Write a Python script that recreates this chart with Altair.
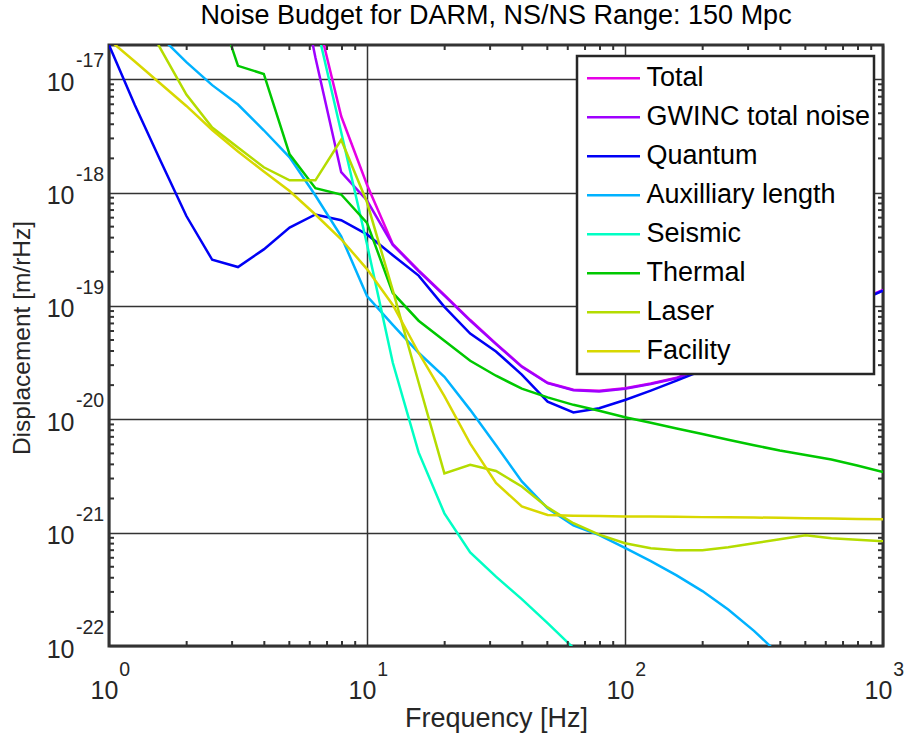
import altair as alt
import pandas as pd

# Frequency grid (10 points per decade, 1 Hz .. 1 kHz)
FREQ = [1.0, 1.259, 1.585, 1.995, 2.512, 3.162, 3.981, 5.012, 6.310, 7.943,
        10.0, 12.59, 15.85, 19.95, 25.12, 31.62, 39.81, 50.12, 63.10, 79.43,
        100.0, 125.9, 158.5, 199.5, 251.2, 316.2, 398.1, 501.2, 631.0, 794.3, 1000.0]

N = None

TOTAL = [N] * 8 + [4.1e-17, 4.7e-18, 1.17e-18, 3.5e-19, 2.06e-19, 1.25e-19, 7.5e-20,
                   4.65e-20, 2.93e-20, 2.1e-20, 1.82e-20, 1.78e-20, 1.88e-20, 2.07e-20,
                   2.32e-20, 2.84e-20, 3.6e-20, 4.5e-20, 5.6e-20, 7.0e-20, 8.8e-20,
                   1.1e-19, 1.38e-19]

GWINC = [N] * 7 + [2.1e-16, 1.55e-17, 1.51e-18, 8.5e-19, 3.45e-19, 2.03e-19, 1.23e-19,
                   7.4e-20, 4.6e-20, 2.9e-20, 2.08e-20, 1.8e-20, 1.76e-20, 1.86e-20,
                   2.05e-20, 2.3e-20, 2.82e-20, 3.58e-20, 4.48e-20, 5.58e-20, 6.98e-20,
                   8.78e-20, 1.1e-19, 1.37e-19]

QUANTUM = [2.0e-17, 5.9e-18, 1.9e-18, 6.2e-19, 2.55e-19, 2.2e-19, 3.15e-19, 4.9e-19,
           6.4e-19, 5.7e-19, 4.27e-19, 2.8e-19, 1.85e-19, 9.8e-20, 5.7e-20, 3.96e-20,
           2.48e-20, 1.43e-20, 1.15e-20, 1.25e-20, 1.48e-20, 1.79e-20, 2.19e-20, 2.7e-20,
           3.4e-20, 4.3e-20, 5.4e-20, 6.8e-20, 8.55e-20, 1.08e-19, 1.36e-19]

AUX = [N] * 2 + [2.37e-17, 1.41e-17, 8.85e-18, 5.97e-18, 3.54e-18, 2.04e-18, 9.4e-19,
                 4.1e-19, 1.22e-19, 6.8e-20, 3.86e-20, 2.37e-20, 1.21e-20, 5.9e-21,
                 2.83e-21, 1.64e-21, 1.16e-21, 9.5e-22, 7.35e-22, 5.6e-22, 4.2e-22,
                 3.05e-22, 2.1e-22, 1.36e-22, 8.3e-23] + [N] * 4

SEISMIC = [N] * 8 + [3.3e-17, 3.4e-18, 3.5e-19, 3.15e-20, 5.1e-21, 1.48e-21, 6.7e-22,
                     4.09e-22, 2.59e-22, 1.59e-22, 9.6e-23] + [N] * 12

THERMAL = [N] * 4 + [6.3e-17, 1.31e-17, 1.11e-17, 2.17e-18, 1.09e-18, 9.6e-19, 5.4e-19,
                     1.3e-19, 7.4e-20, 4.92e-20, 3.28e-20, 2.42e-20, 1.86e-20, 1.56e-20,
                     1.34e-20, 1.19e-20, 1.04e-20, 9.3e-21, 8.3e-21, 7.4e-21, 6.6e-21,
                     5.9e-21, 5.3e-21, 4.83e-21, 4.41e-21, 3.91e-21, 3.43e-21]

LASER = [N] + [4.9e-17, 1.85e-17, 7.3e-18, 3.74e-18, 2.5e-18, 1.67e-18, 1.28e-18, 1.28e-18,
               2.92e-18, 8.2e-19, 1.37e-19, 2.11e-20, 3.33e-21, 3.96e-21, 3.5e-21, 2.55e-21,
               1.67e-21, 1.21e-21, 9.6e-22, 8.05e-22, 7.28e-22, 6.99e-22, 6.99e-22, 7.43e-22,
               8.05e-22, 8.73e-22, 9.47e-22, 8.91e-22, 8.64e-22, 8.38e-22]

FACILITY = [2.23e-17, 1.43e-17, 9.1e-18, 5.8e-18, 3.56e-18, 2.3e-18, 1.53e-18, 1.03e-18,
            6.4e-19, 3.87e-19, 2.11e-19, 1.02e-19, 3.86e-20, 1.6e-20, 6.1e-21, 2.74e-21,
            1.7e-21, 1.43e-21, 1.41e-21, 1.4e-21, 1.39e-21, 1.39e-21, 1.38e-21, 1.37e-21,
            1.37e-21, 1.36e-21, 1.35e-21, 1.34e-21, 1.33e-21, 1.32e-21, 1.31e-21]

NAMES = ["Total", "GWINC total noise", "Quantum", "Auxilliary length",
         "Seismic", "Thermal", "Laser", "Facility"]
COLORS = ["#e600e6", "#9f00ff", "#0000f5", "#00b2ff",
          "#00ffc4", "#00c800", "#b4dc00", "#d8d800"]
SERIES = [TOTAL, GWINC, QUANTUM, AUX, SEISMIC, THERMAL, LASER, FACILITY]

X_MAJOR = [1, 10, 100, 1000]
X_EXP = ["0", "1", "2", "3"]
Y_MAJOR = [1e-22, 1e-21, 1e-20, 1e-19, 1e-18, 1e-17]
Y_EXP = ["-22", "-21", "-20", "-19", "-18", "-17"]
X_MINOR = [m * 10 ** d for d in range(3) for m in range(2, 10)]
Y_MINOR = [m * 10.0 ** d for d in range(-22, -17) for m in range(2, 10)]

FONT = "Liberation Sans, Arial, Helvetica, sans-serif"
INK = "#262626"
FRAME = "#333333"
W, H = 774, 601

rows = []
for name, vals in zip(NAMES, SERIES):
    for f, v in zip(FREQ, vals):
        if v is not None:
            rows.append({"series": name, "f": f, "v": v})
df = pd.DataFrame(rows)

xscale = alt.Scale(type="log", domain=[1, 1000], nice=False)
yscale = alt.Scale(type="log", domain=[1e-22, 2e-17], nice=False)

# one axis definition per channel, shared by every layer that uses the channel
xaxis = alt.Axis(
    values=X_MAJOR, labelExpr="'10'", labelFont=FONT, labelFontSize=25,
    labelColor=INK, labelAlign="center", labelBaseline="middle",
    labelPadding=44, labelOffset=-5, labelFlush=False, labelOverlap=False,
    ticks=False, tickSize=0, domain=False,
    grid=True, gridColor=FRAME, gridWidth=1.5, gridOpacity=1,
    title="Frequency [Hz]", titleFont=FONT, titleFontSize=27,
    titleFontWeight="normal", titleColor=INK,
    titleX=W / 2, titleY=72, titleAlign="center", titleBaseline="middle")
yaxis = alt.Axis(
    values=Y_MAJOR, labelExpr="'10'", labelFont=FONT, labelFontSize=25,
    labelColor=INK, labelAlign="right", labelBaseline="middle",
    labelPadding=35, labelOffset=3, labelFlush=False, labelOverlap=False,
    ticks=False, tickSize=0, domain=False,
    grid=True, gridColor=FRAME, gridWidth=1.5, gridOpacity=1,
    title="Displacement [m/rHz]", titleFont=FONT, titleFontSize=24.5,
    titleFontWeight="normal", titleColor=INK, titleAngle=270,
    titleX=-86.5, titleY=292.5, titleAlign="center", titleBaseline="middle")

X = dict(field="f", type="quantitative", scale=xscale, axis=xaxis)
Y = dict(field="v", type="quantitative", scale=yscale, axis=yaxis)

lines = alt.Chart(df).mark_line(strokeWidth=2.5, clip=True).encode(
    x=alt.X(**X),
    y=alt.Y(**Y),
    color=alt.Color("series:N", scale=alt.Scale(domain=NAMES, range=COLORS),
                    legend=alt.Legend(
                        title=None, orient="none", legendX=468, legendY=11,
                        symbolType="stroke", symbolSize=2809, symbolStrokeWidth=2.5,
                        labelFont=FONT, labelFontSize=27, labelColor="black",
                        labelLimit=400, clipHeight=38.4, rowPadding=0, padding=3,
                        symbolOffset=5.5, labelOffset=5,
                        fillColor="white", strokeColor=INK)),
)

# inward minor ticks on all four sides of the box
xt = pd.DataFrame({"f": X_MINOR})
yt = pd.DataFrame({"v": Y_MINOR})
tick_style = dict(color=FRAME, strokeWidth=2)
bottom_ticks = alt.Chart(xt).mark_rule(**tick_style).encode(
    x=alt.X(**X), y=alt.value(H), y2=alt.value(H - 5))
top_ticks = alt.Chart(xt).mark_rule(**tick_style).encode(
    x=alt.X(**X), y=alt.value(0), y2=alt.value(5))
left_ticks = alt.Chart(yt).mark_rule(**tick_style).encode(
    y=alt.Y(**Y), x=alt.value(0), x2=alt.value(5))
right_ticks = alt.Chart(yt).mark_rule(**tick_style).encode(
    y=alt.Y(**Y), x=alt.value(W), x2=alt.value(W - 5))

# superscript exponents next to the "10" tick labels
xe = pd.DataFrame({"f": X_MAJOR, "e": X_EXP})
ye = pd.DataFrame({"v": Y_MAJOR, "e": Y_EXP})
x_exp = alt.Chart(xe).mark_text(font=FONT, fontSize=19.5, color=INK, align="center",
                                baseline="middle", dx=15.7).encode(
    x=alt.X(**X), y=alt.value(H + 23.7), text="e:N")
y_exp = alt.Chart(ye).mark_text(font=FONT, fontSize=19.5, color=INK, align="left",
                                baseline="middle", dy=-17.8).encode(
    y=alt.Y(**Y), x=alt.value(-33), text="e:N")

chart = alt.layer(
    lines, bottom_ticks, top_ticks, left_ticks, right_ticks, x_exp, y_exp
).properties(
    width=W, height=H,
    title=alt.TitleParams("Noise Budget for DARM, NS/NS Range: 150 Mpc", font=FONT,
                          fontSize=27, fontWeight="normal", color="black",
                          anchor="middle", offset=14),
    autosize=alt.AutoSizeParams(type="none"),
    padding={"left": 109, "top": 45, "right": 21, "bottom": 97},
    background="white",
).configure_view(
    stroke=FRAME, strokeWidth=3
).configure_legend(
    strokeWidth=2.5
)

chart.save("out.html", embed_options={"renderer": "svg", "actions": False})
